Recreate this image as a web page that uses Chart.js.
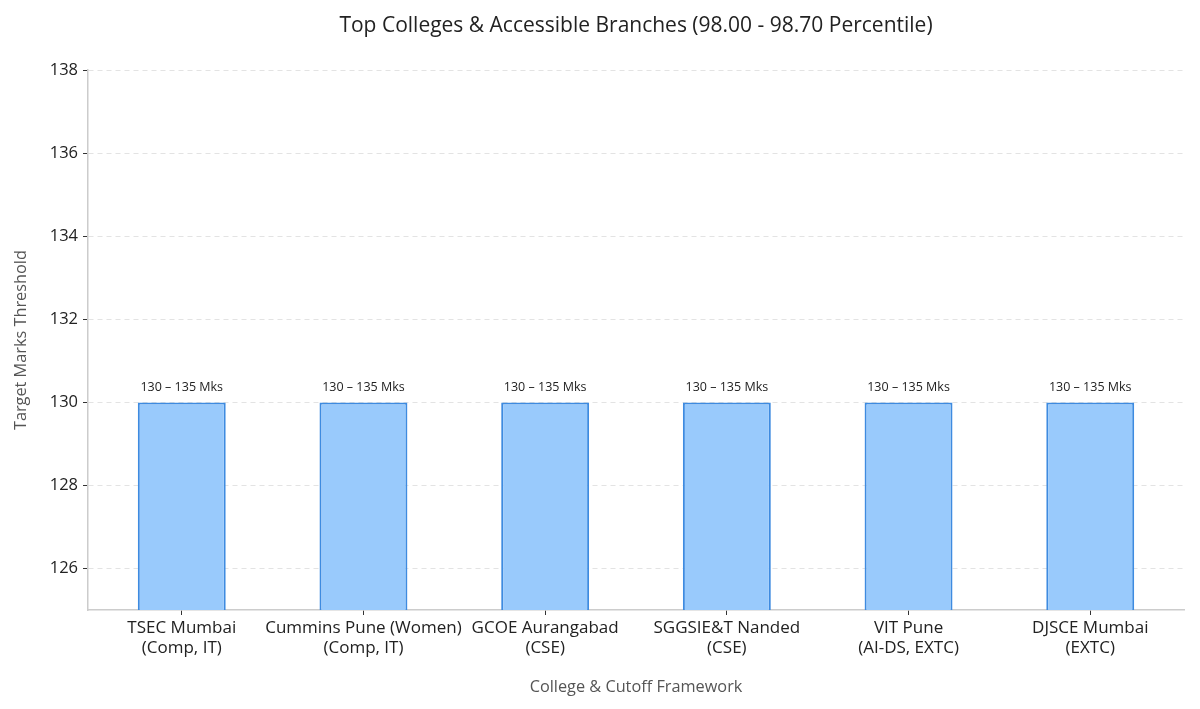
<!DOCTYPE html>
<html>
<head>
<meta charset="utf-8">
<script src="https://cdn.jsdelivr.net/npm/chart.js@4.4.1/dist/chart.umd.min.js"></script>
<style>
html,body{margin:0;padding:0;background:#fff;}
#wrap{width:1200px;height:709px;position:relative;}
</style>
</head>
<body>
<div id="wrap"><canvas id="c"></canvas></div>
<script>
const colleges = [
  ["TSEC Mumbai", "(Comp, IT)"],
  ["Cummins Pune (Women)", "(Comp, IT)"],
  ["GCOE Aurangabad", "(CSE)"],
  ["SGGSIE&T Nanded", "(CSE)"],
  ["VIT Pune", "(AI-DS, EXTC)"],
  ["DJSCE Mumbai", "(EXTC)"]
];
const thresholds = [130, 130, 130, 130, 130, 130];
const rangeLabels = ["130 – 135 Mks", "130 – 135 Mks", "130 – 135 Mks", "130 – 135 Mks", "130 – 135 Mks", "130 – 135 Mks"];
const yTicks = [126, 128, 130, 132, 134, 136, 138];
const yMin = 125, yMax = 138;
const xMin = -0.516, xMax = 5.516;

const FONT = "'Open Sans', Roboto, sans-serif";

const labelPlugin = {
  id: 'barLabels',
  afterLayout(chart) {
    // center the title over the plot area
    if (chart.titleBlock) {
      chart.titleBlock.left = chart.chartArea.left;
      chart.titleBlock.right = chart.chartArea.right;
    }
  },
  afterDatasetsDraw(chart) {
    const ctx = chart.ctx;
    const meta = chart.getDatasetMeta(0);
    ctx.save();
    ctx.font = "12.5px " + FONT;
    ctx.fillStyle = "#222";
    ctx.textAlign = "center";
    ctx.textBaseline = "bottom";
    meta.data.forEach((bar, i) => {
      ctx.fillText(rangeLabels[i], bar.x, bar.y - 9);
    });
    ctx.restore();
  }
};

new Chart(document.getElementById('c'), {
  type: 'bar',
  data: {
    datasets: [{
      data: thresholds.map((v, i) => ({ x: i, y: v })),
      backgroundColor: '#99CAFC',
      borderColor: '#3E8BE0',
      borderWidth: 2,
      borderSkipped: 'bottom',
      barPercentage: 0.484,
      categoryPercentage: 1.0
    }]
  },
  options: {
    responsive: true,
    maintainAspectRatio: false,
    animation: false,
    layout: { padding: { left: 0, right: 16, top: 0, bottom: 12 } },
    plugins: {
      legend: { display: false },
      tooltip: { enabled: false },
      title: {
        display: true,
        text: 'Top Colleges & Accessible Branches (98.00 - 98.70 Percentile)',
        color: '#222',
        font: { family: FONT, size: 21, weight: 'normal' },
        padding: { top: 13, bottom: 32 }
      }
    },
    scales: {
      x: {
        type: 'linear',
        min: xMin,
        max: xMax,
        offset: false,
        afterBuildTicks(scale) { scale.ticks = colleges.map((c, i) => ({ value: i })); },
        grid: {
          display: true,
          drawOnChartArea: false,
          drawTicks: true,
          tickLength: 5,
          tickColor: '#333',
          offset: false
        },
        border: { display: true, color: '#ccc', width: 1.5 },
        ticks: {
          color: '#222',
          font: { family: FONT, size: 17, lineHeight: 1.2 },
          padding: 3,
          maxRotation: 0,
          autoSkip: false,
          callback: (value) => colleges[Math.round(value)]
        },
        title: {
          display: true,
          text: 'College & Cutoff Framework',
          color: '#555',
          font: { family: FONT, size: 16.3 },
          padding: { top: 12, bottom: 0 }
        },
        afterFit(scale) { scale.height = 87; }
      },
      y: {
        min: yMin,
        max: yMax,
        afterBuildTicks(scale) { scale.ticks = yTicks.map(v => ({ value: v })); },
        grid: {
          color: '#e3e3e3',
          tickBorderDash: [],
          drawTicks: true,
          tickLength: 5,
          tickColor: '#333',
          lineWidth: 1
        },
        border: { display: true, color: '#ccc', width: 1.5, dash: [5, 4] },
        ticks: {
          color: '#222',
          font: { family: FONT, size: 16.5 },
          padding: 5
        },
        title: {
          display: true,
          text: 'Target Marks Threshold',
          color: '#555',
          font: { family: FONT, size: 16.3 },
          padding: { top: 12, bottom: 10 }
        },
        afterFit(scale) { scale.width = 88; }
      }
    }
  },
  plugins: [labelPlugin]
});
</script>
</body>
</html>
